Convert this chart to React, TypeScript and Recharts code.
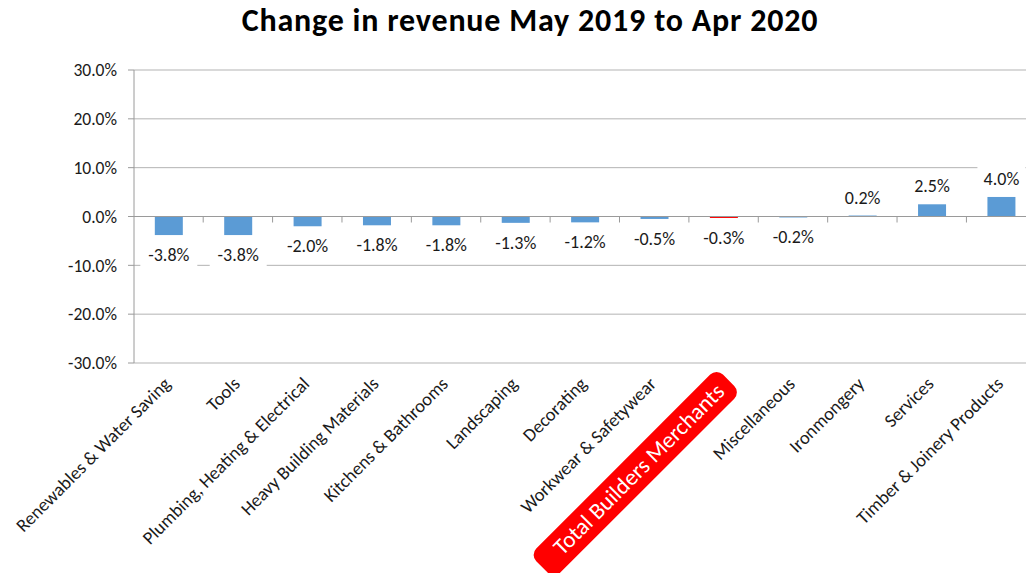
import { BarChart, Bar, XAxis, YAxis, CartesianGrid, Cell, LabelList, ReferenceLine } from "recharts";

const categories = [
  "Renewables & Water Saving",
  "Tools",
  "Plumbing, Heating & Electrical",
  "Heavy Building Materials",
  "Kitchens & Bathrooms",
  "Landscaping",
  "Decorating",
  "Workwear & Safetywear",
  "Total Builders Merchants",
  "Miscellaneous",
  "Ironmongery",
  "Services",
  "Timber & Joinery Products",
];
const changes = [-3.8, -3.8, -2.0, -1.8, -1.8, -1.3, -1.2, -0.5, -0.3, -0.2, 0.2, 2.5, 4.0];
const yTicks = [-30, -20, -10, 0, 10, 20, 30];
const highlight = "Total Builders Merchants";

const data = categories.map((name, i) => ({ name, change: changes[i] }));

const FONT = "Calibri, Carlito, Lato, 'Open Sans', sans-serif";
const GRID = "#b3b3b3";
const AXIS = "#9a9a9a";
const BLUE = "#5b9bd5";
const RED = "#ff0000";
const TEXT = "#1a1a1a";

const fmt = (v: number) => `${v.toFixed(1)}%`;

// bar + the small category-boundary tick marks that hang under the zero line
function BarShape(props: any) {
  const { x, y, width, height, fill, index, payload } = props;
  const top = Math.min(y, y + height);
  const bottom = Math.max(y, y + height);
  const zeroY = payload.change >= 0 ? bottom : top;
  const band = width / 0.4;
  const left = x - band * 0.3;
  return (
    <g>
      <rect x={x} y={top} width={width} height={Math.max(bottom - top, 0.5)} fill={fill} />
      {index > 0 && <line x1={left} x2={left} y1={zeroY} y2={zeroY + 6} stroke={AXIS} />}
      {index === categories.length - 1 && (
        <line x1={left + band} x2={left + band} y1={zeroY} y2={zeroY + 6} stroke={AXIS} />
      )}
    </g>
  );
}

function ValueLabel(props: any) {
  const { x, y, width, height, value } = props;
  const top = Math.min(y, y + height);
  const bottom = Math.max(y, y + height);
  const cx = x + width / 2;
  const cy = value >= 0 ? top - 18 : bottom + 20;
  const text = fmt(value);
  const w = text.length * 9 + 12;
  return (
    <g>
      <rect x={cx - w / 2} y={cy - 13} width={w} height={26} fill="#fff" />
      <text x={cx} y={cy} dy={6} textAnchor="middle" fontSize={18} fill={TEXT} fontFamily={FONT}>
        {text}
      </text>
    </g>
  );
}

function CategoryTick(props: any) {
  const { x, y, payload } = props;
  const label = payload.value as string;
  if (label === highlight) {
    return (
      <g transform={`translate(${x + 2},${y + 30}) rotate(-45)`}>
        <rect x={-253} y={-24} width={264} height={34} rx={9} fill={RED} />
        <text x={0} y={0} textAnchor="end" fontSize={23} fill="#fff" fontFamily={FONT}>
          {label}
        </text>
      </g>
    );
  }
  return (
    <g transform={`translate(${x + 3},${y + 22}) rotate(-45)`}>
      <text x={0} y={0} textAnchor="end" fontSize={18.5} fill={TEXT} fontFamily={FONT}>
        {label}
      </text>
    </g>
  );
}

export default function App() {
  return (
    <div
      style={{
        position: "fixed",
        left: 0,
        top: 0,
        width: 1026,
        height: 573,
        overflow: "hidden",
        background: "#fff",
        fontFamily: FONT,
      }}
    >
      <div
        style={{
          position: "absolute",
          left: 530,
          top: 0,
          transform: "translateX(-50%)",
          whiteSpace: "nowrap",
          fontSize: 32,
          lineHeight: "42px",
          letterSpacing: 0.8,
          fontWeight: 700,
          color: "#000",
        }}
      >
        Change in revenue May 2019 to Apr 2020
      </div>
      <BarChart
        width={1040}
        height={573}
        data={data}
        margin={{ top: 70, right: 4, bottom: 0, left: 0 }}
        barCategoryGap="30%"
      >
        <CartesianGrid vertical={false} stroke={GRID} />
        <XAxis
          dataKey="name"
          interval={0}
          height={210}
          axisLine={false}
          tickLine={false}
          tickSize={0}
          tickMargin={0}
          tick={<CategoryTick />}
        />
        <YAxis
          width={134}
          domain={[-30, 30]}
          ticks={yTicks}
          tickFormatter={fmt}
          axisLine={{ stroke: AXIS }}
          tickLine={{ stroke: AXIS }}
          tickSize={6}
          tickMargin={11}
          tick={{ fill: TEXT, fontSize: 17.5, fontFamily: FONT }}
        />
        <ReferenceLine y={0} stroke={AXIS} />
        <Bar dataKey="change" isAnimationActive={false} shape={<BarShape />}>
          {data.map((d) => (
            <Cell key={d.name} fill={d.name === highlight ? RED : BLUE} />
          ))}
          <LabelList dataKey="change" content={<ValueLabel />} />
        </Bar>
      </BarChart>
    </div>
  );
}
